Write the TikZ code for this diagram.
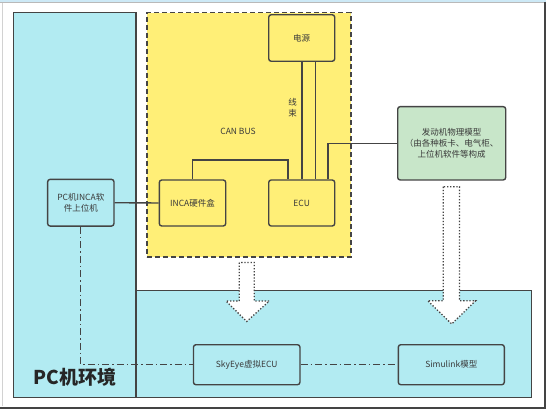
\documentclass[tikz,border=0pt]{standalone}
\usepackage{fontspec}
\setmainfont{Noto Sans CJK SC}
\usetikzlibrary{positioning}
\definecolor{cyanbg}{HTML}{B2EBF2}
\definecolor{yellowbg}{HTML}{FFEF77}
\definecolor{greenbg}{HTML}{C8E6C9}
\definecolor{edge}{HTML}{444444}
\definecolor{txt}{HTML}{3A3A3A}
\definecolor{topstrip}{HTML}{CDE9F6}
\tikzset{
  box/.style={draw=edge, line width=1.4pt, rounded corners=2.5pt, inner sep=0pt, align=center,
    font=\fontsize{8.5}{11}\selectfont, text=txt},
  region/.style={draw=edge, line width=1.4pt, inner sep=0pt},
  wire/.style={draw=edge, line width=1.4pt},
  dashdot/.style={draw=edge, line width=1.3pt, dash pattern=on 7pt off 3pt on 1.5pt off 3pt},
  blockarrow/.style={draw=edge, fill=white, line width=1.3pt, dash pattern=on 1.3pt off 1.8pt, line join=miter},
  lbl/.style={font=\fontsize{8.5}{11}\selectfont, text=txt, inner sep=0pt, align=center}
}
\begin{document}
\begin{tikzpicture}[x=1pt, y=-1pt]
\useasboundingbox (0,0) rectangle (546,409);
\fill[white] (0,0) rectangle (546,409);
\fill[topstrip] (0,0) rectangle (546,2);
% screenshot frame
\draw[gray!55, line width=0.8pt] (0,2.6) -- (544,2.6);
\draw[gray!35, line width=0.8pt] (2,3) -- (2,406);
\draw[edge, line width=2pt] (545,2) -- (545,407.5) -- (0,407.5);

% regions
\node[region, fill=cyanbg, minimum width=395.4pt, minimum height=106.5pt, anchor=north west] (simenv) at (135.3,290) {};
\node[region, fill=cyanbg, minimum width=122.8pt, minimum height=384.5pt, anchor=north west] (pcenv) at (12.5,12) {};
\node[region, fill=yellowbg, dash pattern=on 5pt off 3pt, line width=1.5pt, minimum width=204pt, minimum height=244pt, anchor=north west] (canbox) at (146,12) {};

\node[font=\fontsize{19}{21}\selectfont\bfseries, text=black!85, inner sep=0pt] (pclabel) at (75,377.5) {PC机环境};
\node[lbl] (canlabel) at (238,131) {CAN BUS};
\node[lbl] (harness) at (292.7,108) {线\\束};

% boxes
\node[box, fill=yellowbg, minimum width=66pt, minimum height=46.5pt] (power) at (301.7,38) {电源};
\node[box, fill=yellowbg, minimum width=66pt, minimum height=46pt] (ecu) at (301.7,203) {ECU};
\node[box, fill=yellowbg, minimum width=66.4pt, minimum height=46pt] (inca) at (192.5,203) {INCA硬件盒};
\node[box, fill=cyanbg, minimum width=66.3pt, minimum height=46.7pt] (pcsw) at (80.8,202.7) {PC机INCA软\\件上位机};
\node[box, fill=greenbg, minimum width=108pt, minimum height=73.3pt, font=\fontsize{8.5}{11}\selectfont] (engine) at (451.7,143.3) {发动机物理模型\\（由各种板卡、电气柜、\\上位机软件等构成};
\node[box, fill=cyanbg, minimum width=106.5pt, minimum height=40pt] (skyeye) at (246.7,364.7) {SkyEye虚拟ECU};
\node[box, fill=cyanbg, minimum width=106pt, minimum height=40pt] (simulink) at (451.3,364.7) {Simulink模型};

% connectors
\draw[wire] ([xshift=0.3pt]power.south) -- ([xshift=0.3pt]ecu.north);
\draw[wire] ([xshift=13.6pt]power.south) -- ([xshift=13.6pt]ecu.north);
\draw[wire] (inca.north) |- (288,160) -- ([xshift=-13.7pt]ecu.north);
\draw[wire] ([xshift=26.3pt]ecu.north) |- (engine.west);
\draw[wire] (pcsw.east) -- (inca.west);
\draw[dashdot] (pcsw.south) |- (skyeye.west);
\draw[dashdot] (skyeye.east) -- (simulink.west);

% block arrows
\draw[blockarrow] (239.3,262.5) -- (239.3,301) -- (226,301) -- (246.7,321.5) -- (269.3,301) -- (254.3,301) -- (254.3,262.5) -- cycle;
\draw[blockarrow] (443.3,186.7) -- (443.3,300.7) -- (427.7,300.7) -- (451.7,324) -- (475.7,300.7) -- (459.5,300.7) -- (459.5,186.7) -- cycle;
\end{tikzpicture}
\end{document}
